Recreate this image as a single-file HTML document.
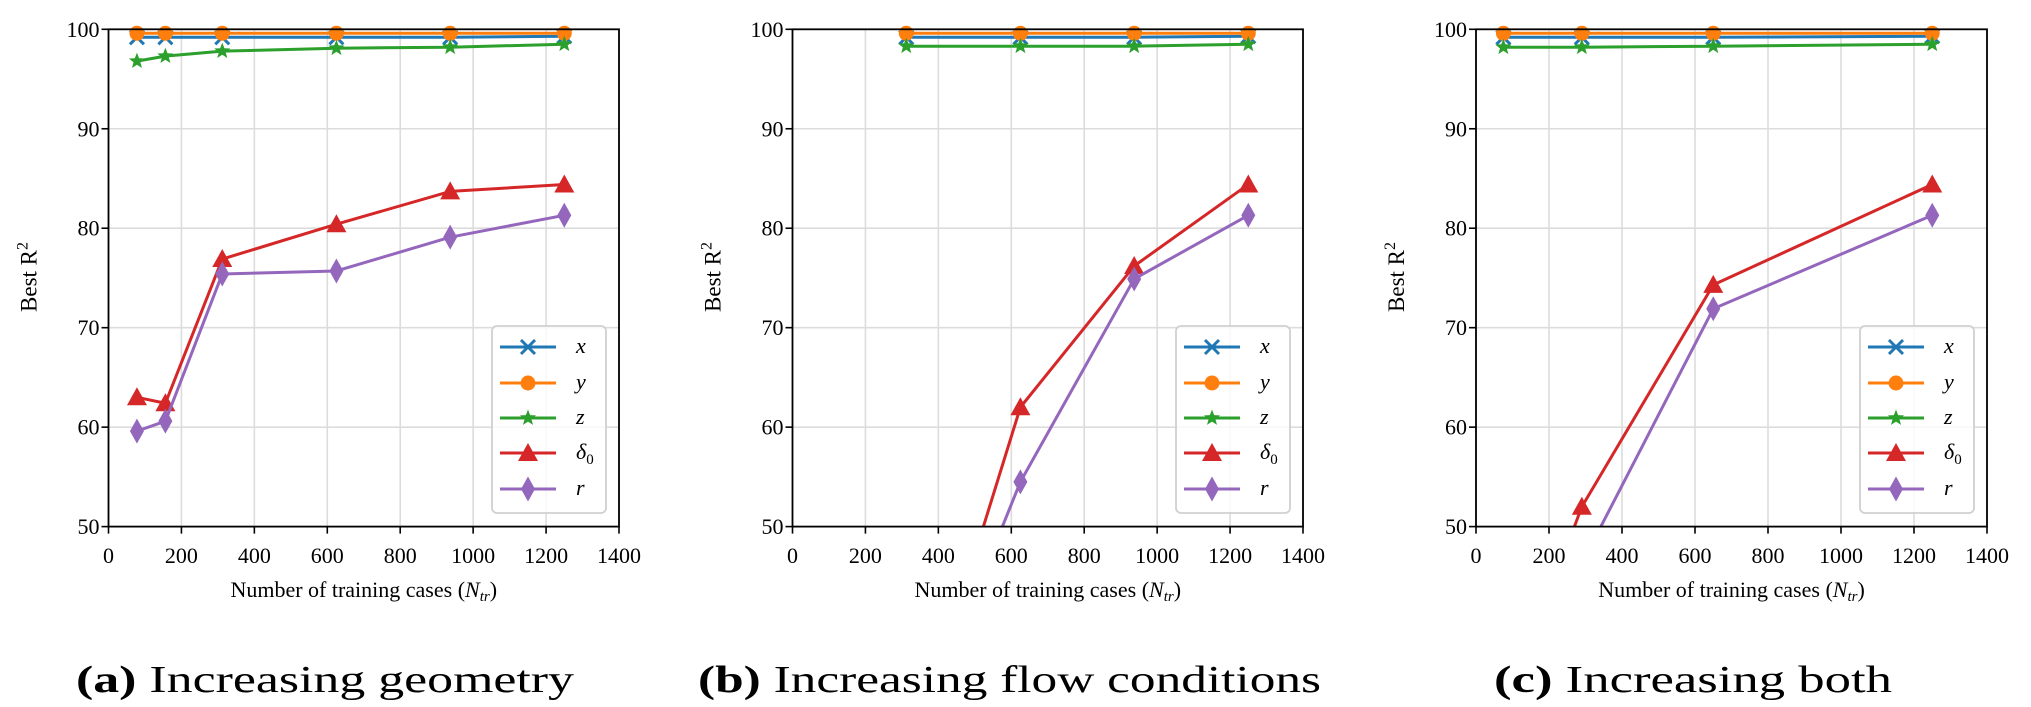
<!DOCTYPE html>
<html><head><meta charset="utf-8"><style>
html,body{margin:0;padding:0;background:#fff;width:2031px;height:707px;overflow:hidden;}
svg{display:block;font-family:"Liberation Serif","DejaVu Serif",serif;overflow:hidden;}
</style></head><body>
<svg id="fig" width="2031" height="707" viewBox="0 0 2031 707" xmlns="http://www.w3.org/2000/svg"></svg>
<script>
// ---- data ----
const seriesNames = ["x","y","z","delta0","r"];
const aX = [78,156,312,625,937,1250];
const aSx = [99.2,99.2,99.2,99.2,99.2,99.3];
const aSy = [99.6,99.6,99.6,99.6,99.6,99.6];
const aSz = [96.8,97.3,97.8,98.1,98.2,98.5];
const aSd = [63.0,62.4,76.9,80.4,83.7,84.4];
const aSr = [59.6,60.6,75.4,75.7,79.1,81.3];
const bX = [312,625,937,1250];
const bSx = [99.2,99.2,99.2,99.3];
const bSy = [99.6,99.6,99.6,99.6];
const bSz = [98.3,98.3,98.3,98.5];
const bSd = [25.0,62.0,76.2,84.4];
const bSr = [26.0,54.5,74.9,81.3];
const cX = [75,290,650,1250];
const cSx = [99.2,99.2,99.2,99.3];
const cSy = [99.6,99.6,99.6,99.6];
const cSz = [98.2,98.2,98.3,98.5];
const cSd = [31.0,52.0,74.3,84.4];
const cSr = [29.0,46.3,71.9,81.3];
const xTicks = [0,200,400,600,800,1000,1200,1400];
const yTicks = [50,60,70,80,90,100];
const colors = ["#1f77b4","#ff7f0e","#2ca02c","#d62728","#9467bd"];
const panels = [
  {id:"a", left:108.5, right:619, xs:aX, ys:[aSx,aSy,aSz,aSd,aSr], tb:"(a)", tt:" Increasing geometry", tx0:76, tx1:574},
  {id:"b", left:792.5, right:1303, xs:bX, ys:[bSx,bSy,bSz,bSd,bSr], tb:"(b)", tt:" Increasing flow conditions", tx0:698, tx1:1321},
  {id:"c", left:1476, right:1987, xs:cX, ys:[cSx,cSy,cSz,cSd,cSr], tb:"(c)", tt:" Increasing both", tx0:1494, tx1:1892}
];
const TOP=29.3, BOT=526.6, XMAX=1400, YMIN=50, YMAX=100;
const NS="http://www.w3.org/2000/svg";
const fig=document.getElementById("fig");
function mk(tag,attrs,parent){const e=document.createElementNS(NS,tag);for(const k in attrs)e.setAttribute(k,attrs[k]);(parent||fig).appendChild(e);return e;}
function marker(g,k,cx,cy,col){
  let e;
  if(k===0){e=mk("path",{d:`M${cx-7},${cy-7}L${cx+7},${cy+7}M${cx-7},${cy+7}L${cx+7},${cy-7}`,stroke:col,"stroke-width":3,fill:"none"},g);}
  else if(k===1){e=mk("circle",{cx:cx,cy:cy,r:7.5,fill:col},g);}
  else if(k===2){let p="";for(let i=0;i<10;i++){const rr=i%2?3.6:8.5;const a=-Math.PI/2+i*Math.PI/5;p+=(i?"L":"M")+(cx+rr*Math.cos(a)).toFixed(2)+","+(cy+rr*Math.sin(a)).toFixed(2);}e=mk("path",{d:p+"Z",fill:col},g);}
  else if(k===3){e=mk("path",{d:`M${cx},${cy-10}L${cx+10},${cy+8}L${cx-10},${cy+8}Z`,fill:col},g);}
  else {e=mk("path",{d:`M${cx},${cy-12.5}L${cx+7},${cy}L${cx},${cy+12.5}L${cx-7},${cy}Z`,fill:col},g);}
  return e;
}
// clip a data-space segment to y in [YMIN, YMAX]
function clipSeg(x0,y0,x1,y1){
  let t0=0,t1=1;const dy=y1-y0;
  if(dy===0){if(y0<YMIN||y0>YMAX)return null;}
  else{
    const ta=(YMIN-y0)/dy, tb=(YMAX-y0)/dy;
    t0=Math.max(t0,Math.min(ta,tb));t1=Math.min(t1,Math.max(ta,tb));
    if(t0>t1)return null;
  }
  return [x0+(x1-x0)*t0,y0+dy*t0,x0+(x1-x0)*t1,y0+dy*t1];
}
const defs=mk("defs",{});
panels.forEach((p,pi)=>{
  const W=p.right-p.left;
  const sx=v=>p.left+v/XMAX*W;
  const sy=v=>BOT-(v-YMIN)/(YMAX-YMIN)*(BOT-TOP);
  const g=mk("g",{});
  
  
  const cp=mk("clipPath",{id:"clip"+p.id},defs);
  mk("rect",{x:p.left,y:TOP-15,width:W,height:BOT-TOP+15},cp);
  xTicks.forEach(t=>{const l=mk("line",{x1:sx(t),x2:sx(t),y1:TOP,y2:BOT,stroke:"#dcdcdc","stroke-width":1.6},g);
    });
  yTicks.forEach(t=>{const l=mk("line",{x1:p.left,x2:p.right,y1:sy(t),y2:sy(t),stroke:"#dcdcdc","stroke-width":1.6},g);
    });
  const sg=mk("g",{"clip-path":`url(#clip${p.id})`},g);
  p.ys.forEach((arr,k)=>{
    let d="";
    for(let i=0;i<arr.length-1;i++){
      const c=clipSeg(p.xs[i],arr[i],p.xs[i+1],arr[i+1]);
      if(c)d+=`M${sx(c[0]).toFixed(2)},${sy(c[1]).toFixed(2)}L${sx(c[2]).toFixed(2)},${sy(c[3]).toFixed(2)}`;
    }
    const pl=mk("path",{d:d,fill:"none",stroke:colors[k],"stroke-width":3,"stroke-linejoin":"round","stroke-linecap":"butt"},sg);
    
    
    arr.forEach((v,i)=>{
      if(v<YMIN||v>YMAX)return;
      const m=marker(sg,k,sx(p.xs[i]),sy(v),colors[k]);
      
      });
  });
  const fr=mk("rect",{x:p.left,y:TOP,width:W,height:BOT-TOP,fill:"none",stroke:"#000","stroke-width":1.8},g);
  
  xTicks.forEach(t=>{mk("line",{x1:sx(t),x2:sx(t),y1:BOT,y2:BOT+7,stroke:"#000","stroke-width":1.6},g);
    const tx=mk("text",{x:sx(t),y:563,"text-anchor":"middle","font-size":22},g);tx.textContent=t;
    });
  yTicks.forEach(t=>{mk("line",{x1:p.left-7,x2:p.left,y1:sy(t),y2:sy(t),stroke:"#000","stroke-width":1.6},g);
    const tx=mk("text",{x:p.left-9,y:sy(t)+7.5,"text-anchor":"end","font-size":22},g);tx.textContent=t;
    });
  const xt=mk("text",{x:(p.left+p.right)/2,y:597,"text-anchor":"middle","font-size":22},g);
  xt.innerHTML='Number of training cases (<tspan font-style="italic">N</tspan><tspan font-style="italic" font-size="15" dy="4">tr</tspan><tspan dy="-4">)</tspan>';
  
  const yt=mk("text",{x:0,y:0,"text-anchor":"middle","font-size":23,transform:`translate(${p.left-72},277) rotate(-90)`},g);
  yt.innerHTML='Best R<tspan font-size="16" dy="-9">2</tspan>';
  
  const lg=mk("g",{},g);
  
  const lx=p.right-127;
  mk("rect",{x:lx,y:326,width:114,height:187,rx:5,fill:"#fff","fill-opacity":0.8,stroke:"#d0d0d0","stroke-width":1.8},lg);
  const labs=['<tspan font-style="italic">x</tspan>','<tspan font-style="italic">y</tspan>','<tspan font-style="italic">z</tspan>','<tspan font-style="italic">δ</tspan><tspan font-size="15" dy="5">0</tspan>','<tspan font-style="italic">r</tspan>'];
  const ey=[347,383,418,453,489];
  for(let k=0;k<5;k++){
    const eg=mk("g",{},lg);
    
    
    mk("line",{x1:lx+8,x2:lx+64,y1:ey[k],y2:ey[k],stroke:colors[k],"stroke-width":3},eg);
    marker(eg,k,lx+36,ey[k],colors[k]);
    const t=mk("text",{x:lx+84,y:ey[k]+6,"font-size":22},eg);t.innerHTML=labs[k];
  }
  const st=mk("text",{x:p.tx0,y:692,"font-size":38,textLength:p.tx1-p.tx0,lengthAdjust:"spacingAndGlyphs"},g);
  st.innerHTML='<tspan font-weight="bold">'+p.tb+'</tspan>'+p.tt;
  
});
</script>
</body></html>
